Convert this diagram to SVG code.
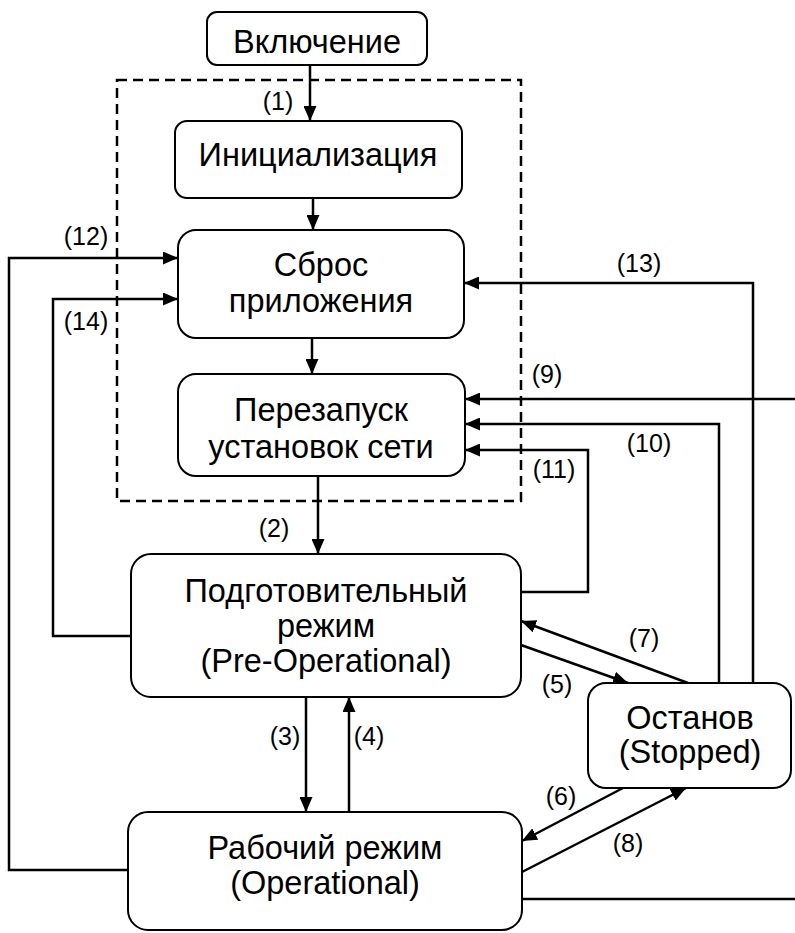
<svg xmlns="http://www.w3.org/2000/svg" width="795" height="933" viewBox="0 0 795 933">
<style>
.box{fill:#fff;stroke:#000;stroke-width:2}
.t{font-family:"Liberation Sans",Arial,sans-serif;font-size:32.5px;text-anchor:middle;fill:#000}
.l{font-family:"Liberation Sans",Arial,sans-serif;font-size:25px;text-anchor:middle;fill:#000}
.c{fill:none;stroke:#000;stroke-width:2.5}
.a{marker-end:url(#ah)}
</style>
<defs>
<marker id="ah" markerUnits="userSpaceOnUse" markerWidth="15" markerHeight="13" refX="15" refY="6.5" orient="auto">
<path d="M0,0 L15,6.5 L0,13 z" fill="#000"/>
</marker>
</defs>
<rect x="0" y="0" width="795" height="933" fill="#fff"/>
<rect id="group-frame" x="117" y="80" width="404" height="421" fill="none" stroke="#000" stroke-width="2.5" stroke-dasharray="10,6"/>
<g id="connectors">
<path class="c a" d="M310,65 V121"/>
<path class="c a" d="M313,198 V230"/>
<path class="c a" d="M312,338 V374"/>
<path class="c a" d="M318,476 V554"/>
<path class="c a" d="M306,697 V812"/>
<path class="c a" d="M349,812 V697"/>
<path class="c a" d="M521,645 L628,683"/>
<path class="c a" d="M688,683 L521,621"/>
<path class="c a" d="M623,788 L522,841"/>
<path class="c a" d="M522,872 L686,788"/>
<path class="c a" d="M795,399 H465"/>
<path class="c a" d="M719,683 V424 H465"/>
<path class="c a" d="M521,592 H588 V450 H465"/>
<path class="c a" d="M753,683 V283 H464"/>
<path class="c a" d="M128,870 H9 V258 H178"/>
<path class="c a" d="M131,636 H53 V299 H178"/>
<path class="c" d="M522,899 H795"/>
<text class="l" x="278" y="110">(1)</text>
<text class="l" x="274" y="537">(2)</text>
<text class="l" x="285" y="745">(3)</text>
<text class="l" x="369" y="745">(4)</text>
<text class="l" x="557" y="693">(5)</text>
<text class="l" x="561" y="805">(6)</text>
<text class="l" x="644" y="647">(7)</text>
<text class="l" x="628" y="852">(8)</text>
<text class="l" x="547" y="383">(9)</text>
<text class="l" x="649" y="452">(10)</text>
<text class="l" x="554" y="478">(11)</text>
<text class="l" x="86" y="245">(12)</text>
<text class="l" x="639" y="272">(13)</text>
<text class="l" x="86" y="330">(14)</text>
</g>
<g id="power-on">
<rect class="box" x="207" y="12" width="220" height="53" rx="10"/>
<text class="t" x="317" y="53">Включение</text>
</g>
<g id="init">
<rect class="box" x="175" y="121" width="287" height="77" rx="12"/>
<text class="t" x="318" y="166">Инициализация</text>
</g>
<g id="reset-app">
<rect class="box" x="178" y="230" width="286" height="108" rx="18"/>
<text class="t" x="321" y="276">Сброс</text>
<text class="t" x="321" y="312">приложения</text>
</g>
<g id="reset-comm">
<rect class="box" x="178" y="374" width="287" height="102" rx="18"/>
<text class="t" x="321" y="421">Перезапуск</text>
<text class="t" x="321" y="458">установок сети</text>
</g>
<g id="pre-operational">
<rect class="box" x="131" y="554" width="390" height="143" rx="20"/>
<text class="t" x="326" y="602">Подготовительный</text>
<text class="t" x="326" y="637">режим</text>
<text class="t" x="326" y="672">(Pre-Operational)</text>
</g>
<g id="stopped">
<rect class="box" x="588" y="683" width="203" height="105" rx="18"/>
<text class="t" x="690" y="729">Останов</text>
<text class="t" x="690" y="763">(Stopped)</text>
</g>
<g id="operational">
<rect class="box" x="128" y="812" width="394" height="118" rx="20"/>
<text class="t" x="325" y="859">Рабочий режим</text>
<text class="t" x="325" y="894">(Operational)</text>
</g>
</svg>
